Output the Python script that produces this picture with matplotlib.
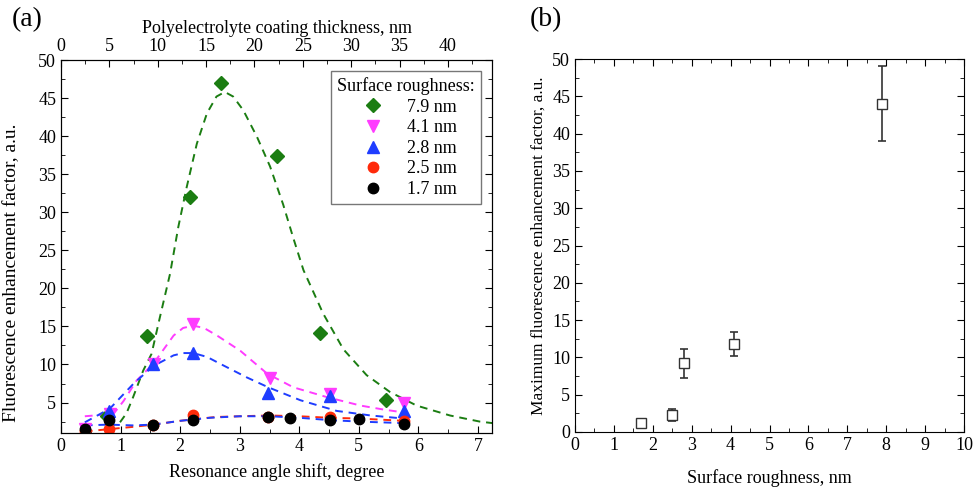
import matplotlib
matplotlib.use('Agg')
import matplotlib.pyplot as plt
from matplotlib.ticker import MultipleLocator

plt.rcParams['font.family'] = ['Liberation Serif', 'DejaVu Serif']
plt.rcParams['font.size'] = 12.5

# panel (a) measured points: resonance angle shift (deg) vs enhancement
x_79 = [0.77, 1.44, 2.17, 2.69, 3.63, 4.35, 5.45]
y_79 = [3.2, 13.7, 32.0, 47.0, 37.4, 14.2, 5.3]
x_41 = [0.40, 0.82, 1.56, 2.22, 3.51, 4.51, 5.75]
y_41 = [1.5, 3.5, 10.0, 15.3, 8.2, 6.1, 5.0]
x_28 = [0.80, 1.55, 2.22, 3.48, 4.51, 5.75]
y_28 = [3.9, 10.0, 11.5, 6.2, 5.8, 3.9]
x_25 = [0.40, 0.80, 1.55, 2.22, 3.48, 4.51, 5.75]
y_25 = [1.3, 1.5, 2.1, 3.3, 3.1, 3.1, 2.6]
x_17 = [0.40, 0.80, 1.55, 2.22, 3.48, 3.85, 4.51, 5.00, 5.75]
y_17 = [1.5, 2.7, 2.0, 2.7, 3.1, 3.0, 2.7, 2.9, 2.2]

# fitted curves
fx_79 = [0.77, 0.90, 0.99, 1.10, 1.21, 1.38, 1.52, 1.66, 1.83, 1.97, 2.11, 2.28, 2.45,
         2.61, 2.75, 2.89, 3.06, 3.29, 3.51, 3.73, 3.90, 4.07, 4.40, 4.74, 5.13, 5.52,
         5.97, 6.53, 7.03, 7.24]
fy_79 = [2.1, 2.1, 2.4, 3.6, 5.7, 9.2, 11.4, 16.2, 21.9, 28.1, 33.3, 39.0, 43.0,
         45.2, 45.8, 45.2, 43.4, 39.9, 36.0, 31.0, 26.6, 22.4, 16.7, 12.0, 8.6, 6.4,
         4.6, 3.3, 2.5, 2.3]
fx_41 = [0.40, 0.88, 1.05, 1.27, 1.55, 1.89, 2.05, 2.22, 2.40, 2.62, 3.01, 3.46, 3.90, 4.47, 5.03, 5.40, 5.75]
fy_41 = [3.2, 3.5, 5.2, 7.9, 10.1, 13.8, 14.8, 15.1, 14.8, 13.8, 11.8, 8.8, 7.0, 5.7, 4.6, 4.1, 3.7]
fx_28 = [0.40, 0.82, 1.22, 1.55, 1.89, 2.05, 2.22, 2.45, 2.67, 3.12, 3.48, 4.02, 4.63, 5.20, 5.75]
fy_28 = [2.4, 4.2, 7.5, 9.8, 11.2, 11.5, 11.5, 11.0, 10.1, 8.3, 7.0, 5.3, 3.9, 3.3, 2.9]
fx_25 = [0.40, 0.80, 1.20, 1.55, 2.00, 2.22, 2.60, 3.00, 3.50, 4.00, 4.50, 5.00, 5.75]
fy_25 = [1.2, 1.5, 1.8, 2.1, 2.6, 2.8, 3.1, 3.2, 3.3, 3.2, 3.0, 2.9, 2.6]
fx_17 = [0.40, 0.80, 1.20, 1.55, 2.00, 2.50, 3.00, 3.50, 4.00, 4.50, 5.00, 5.75]
fy_17 = [2.0, 2.1, 2.0, 2.1, 2.6, 3.0, 3.2, 3.2, 3.0, 2.7, 2.5, 2.3]

# panel (b)
rough = [1.7, 2.5, 2.8, 4.1, 7.9]
max_ef = [1.2, 2.3, 9.2, 11.8, 44.0]
max_err = [0.5, 0.8, 1.9, 1.6, 5.0]

W, H = 974, 487
fig = plt.figure(figsize=(9.74, 4.87), dpi=100)
ax = fig.add_axes([61 / W, 1 - 433 / H, (492 - 61) / W, (433 - 60) / H])

green = '#1b7d12'
magenta = '#ff3cff'
blue = '#1f3dff'
red = '#ff2a0a'

for fx, fy, c in [(fx_79, fy_79, green), (fx_41, fy_41, magenta), (fx_28, fy_28, blue),
                  (fx_25, fy_25, red), (fx_17, fy_17, blue)]:
    ax.plot(fx, fy, color=c, lw=1.4, dashes=(4, 3))

ax.plot(x_79, y_79, 'D', color=green, ms=7, ls='none', label='7.9 nm')
ax.plot(x_41, y_41, 'v', color=magenta, ms=8.5, ls='none', label='4.1 nm')
ax.plot(x_28, y_28, '^', color=blue, ms=8.5, ls='none', label='2.8 nm')
ax.plot(x_25, y_25, 'o', color=red, ms=7.5, ls='none', label='2.5 nm')
ax.plot(x_17, y_17, 'o', color='black', ms=7.5, ls='none', label='1.7 nm')

ax.set_xlim(0, 7.235)
ax.set_ylim(1, 50)
ax.xaxis.set_major_locator(MultipleLocator(1))
ax.xaxis.set_minor_locator(MultipleLocator(0.5))
ax.yaxis.set_major_locator(MultipleLocator(5))
ax.yaxis.set_minor_locator(MultipleLocator(2.5))
ax.tick_params(which='both', direction='in', right=True, labelsize=13)
ax.tick_params(which='major', length=5)
ax.tick_params(which='minor', length=3)
ax.set_xlabel('Resonance angle shift, degree', fontsize=13, labelpad=6)
ax.set_ylabel('Fluorescence enhancement factor, a.u.', fontsize=14)
ax.yaxis.set_label_coords(-0.095, 0.43)

top = ax.twiny()
top.set_xlim(0, 44.55)
top.xaxis.set_major_locator(MultipleLocator(5))
top.xaxis.set_minor_locator(MultipleLocator(2.5))
top.tick_params(which='both', direction='in', labelsize=13)
top.tick_params(which='major', length=5)
top.tick_params(which='minor', length=3)
top.set_xlabel('Polyelectrolyte coating thickness, nm', fontsize=13)

leg = ax.legend(title='Surface roughness:', loc='upper right', frameon=True, fancybox=False,
                edgecolor='#555555', fontsize=13, title_fontsize=13, borderaxespad=0.6,
                handletextpad=0.9, labelspacing=0.2, borderpad=0.35)
leg.get_frame().set_linewidth(1.0)

# panel (b)
bx = fig.add_axes([575 / W, 1 - 432 / H, (964 - 575) / W, (432 - 59) / H])
bx.errorbar(rough, max_ef, yerr=max_err, fmt='s', mfc='white', mec='#333333', ms=7,
            ecolor='#333333', elinewidth=1.2, capsize=3, capthick=1.2, clip_on=False)
bx.set_xlim(0, 10)
bx.set_ylim(0, 50)
bx.xaxis.set_major_locator(MultipleLocator(1))
bx.xaxis.set_minor_locator(MultipleLocator(0.5))
bx.yaxis.set_major_locator(MultipleLocator(5))
bx.yaxis.set_minor_locator(MultipleLocator(2.5))
bx.tick_params(which='both', direction='in', top=True, right=True, labelsize=13)
bx.tick_params(which='major', length=5)
bx.tick_params(which='minor', length=3)
bx.set_xlabel('Surface roughness, nm', fontsize=13, labelpad=11)
bx.set_ylabel('Maximum fluorescence enhancement factor, a.u.', fontsize=12.5)

fig.text(12 / W, 1 - 20 / H, '(a)', fontsize=20, va='center', ha='left')
fig.text(530 / W, 1 - 20 / H, '(b)', fontsize=20, va='center', ha='left')

fig.savefig('out.png', dpi=100)
